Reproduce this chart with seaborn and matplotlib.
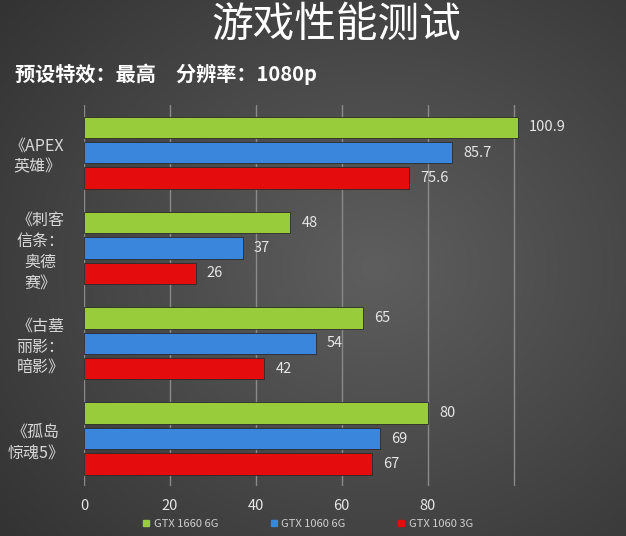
import numpy as np
import pandas as pd
import matplotlib.pyplot as plt
import seaborn as sns

# data
games = ["《APEX\n英雄》", "《刺客\n信条：\n奥德\n赛》", "《古墓\n丽影：\n暗影》", "《孤岛\n惊魂5》"]
cards = ["GTX 1660 6G", "GTX 1060 6G", "GTX 1060 3G"]
gtx1660_6g = [100.9, 48, 65, 80]
gtx1060_6g = [85.7, 37, 54, 69]
gtx1060_3g = [75.6, 26, 42, 67]
colors = ["#98cc3a", "#3a86dc", "#e40c0c"]

df = pd.DataFrame({
    "game": games * 3,
    "card": np.repeat(cards, len(games)),
    "fps": gtx1660_6g + gtx1060_6g + gtx1060_3g,
})

sns.set_style("dark")
plt.rcParams["font.family"] = ["Noto Sans CJK SC", "DejaVu Sans"]

fig = plt.figure(figsize=(6.26, 5.36), dpi=100)

# dark grey gradient background
bg = fig.add_axes([0, 0, 1, 1], zorder=-10)
yy, xx = np.mgrid[0:1:200j, 0:1:200j]
dist = np.sqrt((xx - 0.6) ** 2 + (yy - 0.5) ** 2)
bg.imshow(-dist, cmap=sns.color_palette("blend:#333333,#5e5e5e", as_cmap=True),
          extent=[0, 1, 0, 1], aspect="auto")
bg.axis("off")

ax = fig.add_axes([0.134, 0.093, 0.824, 0.711])
ax.set_facecolor("none")
sns.barplot(data=df, y="game", x="fps", hue="card", palette=colors,
            orient="h", width=0.8, gap=0.16, saturation=1, ax=ax,
            legend=False, zorder=3, edgecolor="#2a2a2a", linewidth=0.6)

for cont in ax.containers:
    ax.bar_label(cont, fmt="%g", padding=8, color="#e6e6e6", fontsize=10.5)

ax.set_xlim(0, 120)
ax.set_xticks([0, 20, 40, 60, 80, 100])
ax.set_xticklabels(["0", "20", "40", "60", "80", ""])
ax.grid(axis="x", color="#8a8a8a", linewidth=1)
ax.grid(axis="y", visible=False)
for s in ax.spines.values():
    s.set_visible(False)
ax.set_xlabel("")
ax.set_ylabel("")
ax.tick_params(axis="x", colors="#e6e6e6", labelsize=10.5, length=0, pad=9)
ax.tick_params(axis="y", colors="#d8d8d8", labelsize=11.5, length=0, pad=14)
for lab in ax.get_yticklabels():
    lab.set_multialignment("center")
    lab.set_linespacing(1.3)

fig.text(0.537, 0.952, "游戏性能测试", ha="center", va="center",
         fontsize=30, fontweight="medium", color="white")
fig.text(0.024, 0.862, "预设特效：最高　分辨率：1080p", ha="left", va="center",
         fontsize=14.5, fontweight="bold", color="white")

handles = [plt.Line2D([], [], marker="s", linestyle="", color=c, markersize=5)
           for c in colors]
fig.legend(handles, cards, loc="center", bbox_to_anchor=(0.49, 0.022), ncol=3,
           frameon=False, fontsize=8, labelcolor="#cfcfcf", columnspacing=4.5,
           handletextpad=0.2, handlelength=1)

fig.savefig("out.png", dpi=100)
